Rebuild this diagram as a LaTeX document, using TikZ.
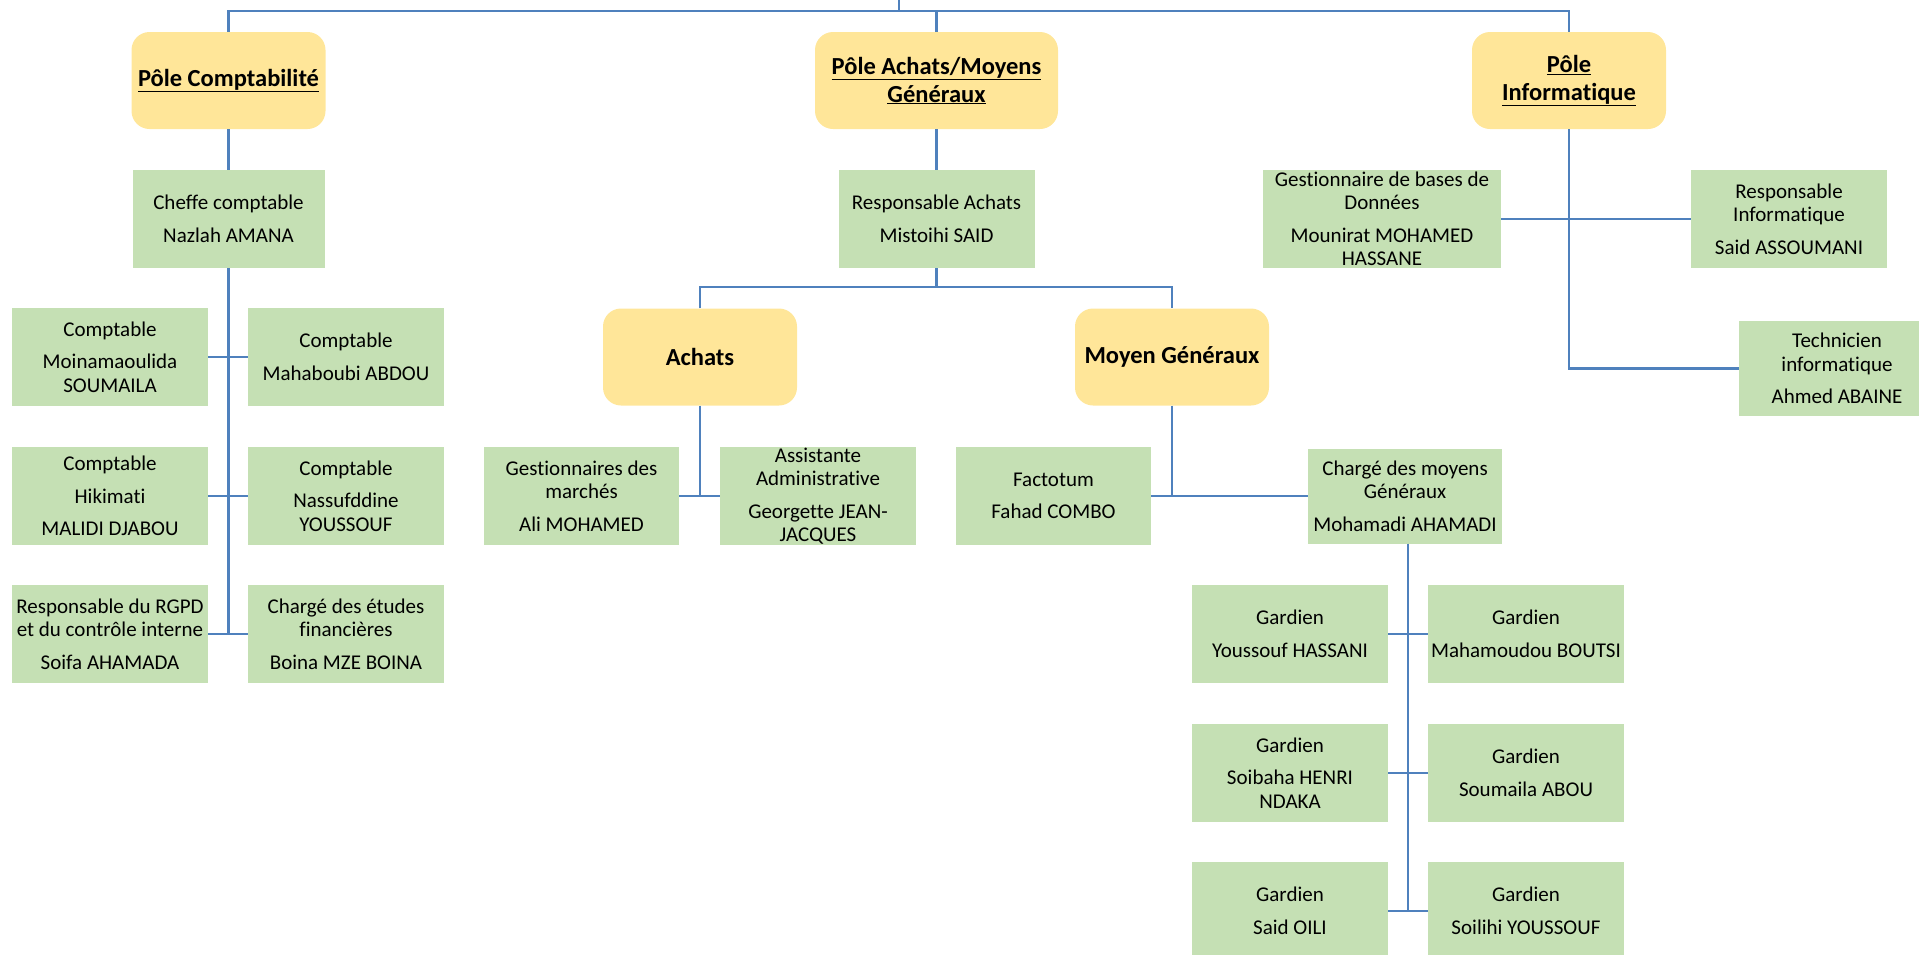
\documentclass[tikz,border=0pt]{standalone}
\usepackage{fontspec}
\setmainfont{Carlito}[Ligatures={NoCommon}]
\definecolor{poleY}{HTML}{FFE699}
\definecolor{persG}{HTML}{C5E0B4}
\definecolor{lineB}{HTML}{4F81BD}
\begin{document}
\begin{tikzpicture}[x=1pt,y=-1pt,
  pole/.style={fill=poleY, rounded corners=18pt, minimum width=194pt, minimum height=97pt, inner sep=0pt, align=center, font=\bfseries\fontsize{24.5}{28}\selectfont},
  pers/.style={fill=persG, minimum width=196pt, minimum height=98pt, inner sep=0pt, align=center, font=\fontsize{21}{23.5}\selectfont},
  link/.style={draw=lineB, line width=2.6pt}]
\useasboundingbox (0,0) rectangle (1919,954);
% poles
\node[pole] (pc) at (228.5,80.5) {\underline{Pôle Comptabilité}};
\node[pole, minimum width=243pt] (pa) at (936.5,80.5) {\underline{Pôle Achats/Moyens}\\\underline{Généraux}};
\node[pole] (pi) at (1569,80.5) {\underline{Pôle}\\\underline{Informatique}};
\node[pole] (achats) at (700,357) {Achats};
\node[pole] (mg) at (1172,357) {Moyen Généraux};
% level 2
\node[pers, minimum width=192pt] (cc) at (228.5,219) {Cheffe comptable\\[9pt]Nazlah AMANA};
\node[pers] (ra) at (936.5,219) {Responsable Achats\\[9pt]Mistoihi SAID};
\node[pers, minimum width=238pt] (gbd) at (1382,219) {Gestionnaire de bases de\\Données\\[9pt]Mounirat MOHAMED\\HASSANE};
\node[pers] (ri) at (1789,219) {Responsable\\Informatique\\[9pt]Said ASSOUMANI};
\node[pers, minimum height=95pt] (tech) at (1837,368.5) {Technicien\\informatique\\[9pt]Ahmed ABAINE};
% comptabilite
\node[pers] (c1l) at (110,357) {Comptable\\[9pt]Moinamaoulida\\SOUMAILA};
\node[pers] (c1r) at (346,357) {Comptable\\[9pt]Mahaboubi ABDOU};
\node[pers] (c2l) at (110,496) {Comptable\\[9pt]Hikimati\\[9pt]MALIDI DJABOU};
\node[pers] (c2r) at (346,496) {Comptable\\[9pt]Nassufddine\\YOUSSOUF};
\node[pers] (c3l) at (110,634) {Responsable du RGPD\\et du contrôle interne\\[9pt]Soifa AHAMADA};
\node[pers] (c3r) at (346,634) {Chargé des études\\financières\\[9pt]Boina MZE BOINA};
% achats / moyens generaux
\node[pers, minimum width=195pt] (gm) at (581.5,496) {Gestionnaires des\\marchés\\[9pt]Ali MOHAMED};
\node[pers] (aa) at (818,496) {Assistante\\Administrative\\[9pt]Georgette JEAN-\\JACQUES};
\node[pers, minimum width=195pt] (fact) at (1053.5,496) {Factotum\\[9pt]Fahad COMBO};
\node[pers, minimum width=194pt, minimum height=95pt] (cmg) at (1405,496) {Chargé des moyens\\Généraux\\[9pt]Mohamadi AHAMADI};
% gardiens
\node[pers] (g1l) at (1290,634) {Gardien\\[9pt]Youssouf HASSANI};
\node[pers] (g1r) at (1526,634) {Gardien\\[9pt]Mahamoudou BOUTSI};
\node[pers] (g2l) at (1290,773) {Gardien\\[9pt]Soibaha HENRI\\NDAKA};
\node[pers] (g2r) at (1526,773) {Gardien\\[9pt]Soumaila ABOU};
\node[pers] (g3l) at (1290,911) {Gardien\\[9pt]Said OILI};
\node[pers] (g3r) at (1526,911) {Gardien\\[9pt]Soilihi YOUSSOUF};
% connectors
\coordinate (root) at (899,0);
\coordinate (bus) at (899,11);
\draw[link] (root) -- (bus);
\draw[link] (pc.north) |- (bus) -| (pi.north);
\draw[link] (pa.north) |- (bus);
\draw[link] (pc.south) -- (cc.north);
\coordinate (cbus) at (228.5,634);
\draw[link] (cc.south) -- (cbus);
\draw[link] (c1l.east) -- (c1r.west);
\draw[link] (c2l.east) -- (c2r.west);
\draw[link] (c3l.east) -- (c3r.west);
\draw[link] (pa.south) -- (ra.north);
\coordinate (abus) at (936.5,287);
\draw[link] (ra.south) -- (abus);
\draw[link] (achats.north) |- (abus) -| (mg.north);
\draw[link] (achats.south) -- (achats.south |- gm.east);
\draw[link] (gm.east) -- (aa.west);
\draw[link] (mg.south) -- (mg.south |- fact.east);
\draw[link] (fact.east) -- (cmg.west);
\coordinate (gbus) at (1408,911);
\draw[link] (cmg.south -| gbus) -- (gbus);
\draw[link] (g1l.east) -- (g1r.west);
\draw[link] (g2l.east) -- (g2r.west);
\draw[link] (g3l.east) -- (g3r.west);
\draw[link] (pi.south) |- (tech.west);
\draw[link] (gbd.east) -- (ri.west);
\end{tikzpicture}
\end{document}
